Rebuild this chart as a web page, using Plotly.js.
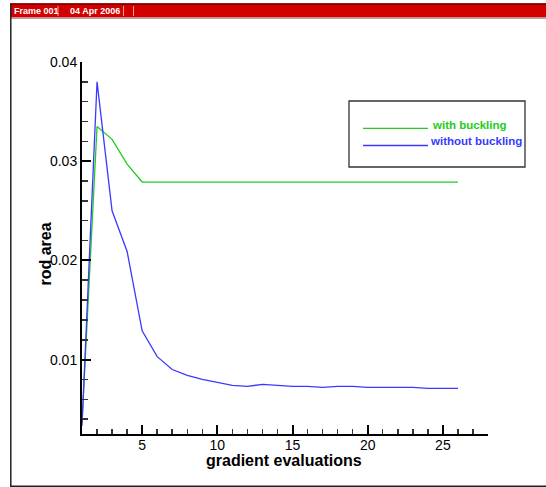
<!DOCTYPE html>
<html>
<head>
<meta charset="utf-8">
<script src="https://cdn.plot.ly/plotly-3.0.1.min.js"></script>
<style>html,body{margin:0;padding:0;background:#fff;}#chart{width:546px;height:487px;}</style>
</head>
<body>
<div id="chart"></div>
<script>
// ---- data ----
var gradientEvaluations = [1,2,3,4,5,6,7,8,9,10,11,12,13,14,15,16,17,18,19,20,21,22,23,24,25,26];
var withBuckling = [0.0036,0.0335,0.0322,0.0297,0.0279,0.0279,0.0279,0.0279,0.0279,0.0279,0.0279,0.0279,0.0279,0.0279,0.0279,0.0279,0.0279,0.0279,0.0279,0.0279,0.0279,0.0279,0.0279,0.0279,0.0279,0.0279];
var withoutBuckling = [0.0033,0.0380,0.0250,0.0209,0.0129,0.0103,0.0090,0.0084,0.0080,0.0077,0.0074,0.0073,0.0075,0.0074,0.0073,0.0073,0.0072,0.0073,0.0073,0.0072,0.0072,0.0072,0.0072,0.0071,0.0071,0.0071];
var seriesNames = ["with buckling", "without buckling"];
var headerLabels = ["Frame 001", "04 Apr 2006"];
var axisTitles = ["gradient evaluations", "rod area"];

// ---- layout helpers (pixel -> paper) ----
var W = 546, H = 487, L = 82, R = 58, T = 62, B = 53;
var PW = W - L - R, PH = H - T - B;
function px(x){ return (x - L) / PW; }
function py(y){ return 1 - (y - T) / PH; }

var green = "#22cc22", blue = "#3a3aff";
var fam = "Liberation Sans, Arial, sans-serif";

var traces = [
  {x: gradientEvaluations, y: withBuckling, type: "scatter", mode: "lines", name: seriesNames[0],
   line: {color: green, width: 1.3}},
  {x: gradientEvaluations, y: withoutBuckling, type: "scatter", mode: "lines", name: seriesNames[1],
   line: {color: blue, width: 1.3}}
];

var axisFont = {family: fam, size: 14, color: "#000"};
var titleFont = {family: fam, size: 16, color: "#000", weight: "bold"};

var shapes = [
  // header bar
  {type: "rect", xref: "paper", yref: "paper", x0: px(10), x1: px(560), y0: py(17.5), y1: py(3.5),
   fillcolor: "#d40000", line: {width: 0}, layer: "below"},
  {type: "line", xref: "paper", yref: "paper", x0: px(10), x1: px(560), y0: py(4), y1: py(4),
   line: {color: "#6a0000", width: 1.5}},
  {type: "line", xref: "paper", yref: "paper", x0: px(10), x1: px(560), y0: py(18.3), y1: py(18.3),
   line: {color: "#999999", width: 1}},
  // separators
  {type: "line", xref: "paper", yref: "paper", x0: px(58), x1: px(58), y0: py(16), y1: py(6),
   line: {color: "#ff9a9a", width: 1}},
  {type: "line", xref: "paper", yref: "paper", x0: px(123.5), x1: px(123.5), y0: py(16), y1: py(6),
   line: {color: "#ff9a9a", width: 1}},
  {type: "line", xref: "paper", yref: "paper", x0: px(133.5), x1: px(133.5), y0: py(16), y1: py(6),
   line: {color: "#ff9a9a", width: 1}},
  // frame border
  {type: "line", xref: "paper", yref: "paper", x0: px(10.8), x1: px(10.8), y0: py(4), y1: py(486.5),
   line: {color: "#222", width: 1.5}},
  {type: "line", xref: "paper", yref: "paper", x0: px(10), x1: px(560), y0: py(486.3), y1: py(486.3),
   line: {color: "#222", width: 1.5}},
  // legend box
  {type: "rect", xref: "paper", yref: "paper", x0: px(349), x1: px(525), y0: py(167), y1: py(101),
   fillcolor: "rgba(0,0,0,0)", line: {color: "#333", width: 1.3}},
  {type: "line", xref: "paper", yref: "paper", x0: px(363), x1: px(428), y0: py(128.3), y1: py(128.3),
   line: {color: green, width: 1.3}},
  {type: "line", xref: "paper", yref: "paper", x0: px(363), x1: px(428), y0: py(145.5), y1: py(145.5),
   line: {color: blue, width: 1.3}}
];

var annotations = [
  {xref: "paper", yref: "paper", x: px(11.5), y: py(11), xanchor: "left", yanchor: "middle",
   text: headerLabels[0], showarrow: false,
   font: {family: fam, size: 9, color: "#fff", weight: "bold"}},
  {xref: "paper", yref: "paper", x: px(68), y: py(11), xanchor: "left", yanchor: "middle",
   text: headerLabels[1], showarrow: false,
   font: {family: fam, size: 9, color: "#fff", weight: "bold"}},
  {xref: "paper", yref: "paper", x: px(430), y: py(125), xanchor: "left", yanchor: "middle",
   text: seriesNames[0], showarrow: false,
   font: {family: fam, size: 11.5, color: green, weight: "bold"}},
  {xref: "paper", yref: "paper", x: px(427.5), y: py(141), xanchor: "left", yanchor: "middle",
   text: seriesNames[1], showarrow: false,
   font: {family: fam, size: 11.5, color: blue, weight: "bold"}},
  // axis titles
  {xref: "paper", yref: "paper", x: px(284), y: py(460), xanchor: "center", yanchor: "middle",
   text: axisTitles[0], showarrow: false, font: titleFont},
  {xref: "paper", yref: "paper", x: px(44.5), y: py(254), xanchor: "center", yanchor: "middle",
   text: axisTitles[1], textangle: -90, showarrow: false, font: titleFont}
];

var layout = {
  width: W, height: H,
  margin: {l: L, r: R, t: T, b: B, pad: 0},
  paper_bgcolor: "#fff", plot_bgcolor: "#fff",
  showlegend: false,
  font: axisFont,
  xaxis: {
    range: [1, 28], showgrid: false, zeroline: false,
    showline: true, linecolor: "#000", linewidth: 2,
    ticks: "inside", ticklen: 9, tickwidth: 2, tickcolor: "#000",
    tick0: 0, dtick: 5, tickfont: axisFont, ticklabelstandoff: -3,
    minor: {ticks: "inside", ticklen: 5, tickwidth: 1.5, tickcolor: "#333", dtick: 1, tick0: 0, showgrid: false},
    automargin: false, fixedrange: true
  },
  yaxis: {
    range: [0.0025, 0.04], showgrid: false, zeroline: false,
    showline: true, linecolor: "#000", linewidth: 2,
    ticks: "inside", ticklen: 9, tickwidth: 2, tickcolor: "#000",
    tick0: 0, dtick: 0.01, tickformat: ".2f", tickfont: axisFont,
    minor: {ticks: "inside", ticklen: 6, tickwidth: 1.5, tickcolor: "#333", dtick: 0.002, tick0: 0, showgrid: false},
    automargin: false, fixedrange: true
  },
  shapes: shapes,
  annotations: annotations
};

Plotly.newPlot("chart", traces, layout, {displayModeBar: false, staticPlot: true});
</script>
</body>
</html>
